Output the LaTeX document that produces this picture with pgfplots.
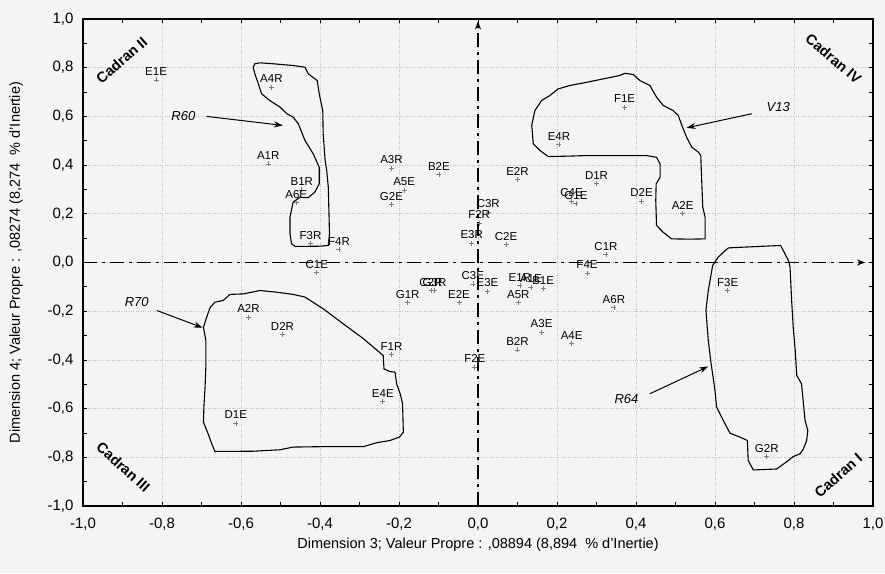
\documentclass[border=0pt]{standalone}
\usepackage{pgfplots}
\pgfplotsset{compat=1.18}
\usepackage{fontspec}
\setmainfont{Liberation Sans}
\usetikzlibrary{arrows.meta}
\definecolor{bg}{RGB}{244,244,244}
\definecolor{gridc}{RGB}{190,190,190}
\definecolor{markc}{RGB}{125,125,125}

\pgfplotstableread{
label x y
E1E -0.815 0.750
A4R -0.523 0.720
A1R -0.531 0.405
B1R -0.446 0.298
A6E -0.460 0.245
F3R -0.424 0.077
F4R -0.352 0.053
A3R -0.219 0.387
A5E -0.187 0.296
G2E -0.219 0.238
B2E -0.099 0.361
F1E 0.371 0.638
E4R 0.205 0.485
E2R 0.100 0.341
D1R 0.300 0.323
C4E 0.237 0.252
G1E 0.248 0.241
D2E 0.414 0.252
A2E 0.518 0.200
C3R 0.026 0.207
F2R 0.003 0.161
E3R -0.016 0.079
C2E 0.071 0.073
C1R 0.324 0.033
F4E 0.276 -0.044
C3E -0.013 -0.088
E3E 0.024 -0.118
E1R 0.106 -0.094
A1E 0.134 -0.101
B1E 0.165 -0.108
A5R 0.102 -0.165
A6R 0.344 -0.186
A3E 0.161 -0.287
A4E 0.237 -0.333
B2R 0.100 -0.359
F2E -0.008 -0.430
F3E 0.632 -0.115
G2R 0.731 -0.797
C1E -0.408 -0.042
A2R -0.581 -0.225
D2R -0.495 -0.296
D1E -0.613 -0.660
F1R -0.219 -0.379
E4E -0.241 -0.571
G1R -0.178 -0.165
C2R -0.119 -0.115
G3R -0.110 -0.115
E2E -0.048 -0.165
}\points

\begin{document}
\begin{tikzpicture}
\path[use as bounding box, fill=bg] (-83pt,-67pt) rectangle (802pt,506pt);
\begin{axis}[
  at={(0pt,0pt)}, anchor=south west,
  scale only axis, width=790pt, height=487pt,
  xmin=-1, xmax=1, ymin=-1, ymax=1,
  xtick={-1,-0.8,-0.6,-0.4,-0.2,0,0.2,0.4,0.6,0.8,1},
  ytick={-1,-0.8,-0.6,-0.4,-0.2,0,0.2,0.4,0.6,0.8,1},
  minor tick num=1,
  tick align=inside,
  major tick length=4pt, minor tick length=4pt,
  tick style={black, line width=0.8pt},
  grid=major,
  major grid style={gridc, dotted, line width=0.7pt},
  axis line style={black, line width=1.2pt},
  axis background/.style={fill=bg},
  ticklabel style={font=\fontsize{15}{15}\selectfont},
  /pgf/number format/use comma,
  /pgf/number format/fixed,
  /pgf/number format/fixed zerofill,
  /pgf/number format/precision=1,
  /pgf/number format/assume math mode=true,
  xticklabel style={yshift=-8pt},
  yticklabel style={xshift=-6pt},
  xlabel={Dimension 3; Valeur Propre : ,08894 (8,894~~\% d'Inertie)},
  ylabel={Dimension 4; Valeur Propre : ,08274 (8,274~~\% d'Inertie)},
  label style={font=\fontsize{14.5}{14.5}\selectfont},
  xlabel style={at={(axis description cs:0.5,-0.0801)}, anchor=center},
  ylabel style={at={(axis description cs:-0.0848,0.5)}, anchor=center},
  clip=false,
]
% zero lines
\draw[black, line width=1.6pt, dash pattern=on 14pt off 5pt on 3pt off 5pt, -{Stealth[length=8pt,width=6pt]}]
  (axis cs:0,-1) -- (axis cs:0,0.99);
\draw[black, line width=1.6pt, dash pattern=on 14pt off 5pt on 3pt off 5pt, -{Stealth[length=8pt,width=6pt]}]
  (axis cs:-1,0) -- (axis cs:0.98,0);

% points
\addplot[only marks, mark=+, mark size=2.5pt, mark options={markc, line width=0.7pt},
  nodes near coords, point meta=explicit symbolic,
  every node near coord/.style={black, font=\fontsize{11.5}{11.5}\selectfont, anchor=south, inner sep=0pt, yshift=4pt}]
  table[x=x, y=y, meta=label] {\points};

% R60
\addplot[black, line width=1.1pt, line join=round, mark=none] coordinates {
(-0.565,0.816) (-0.552,0.820) (-0.518,0.816) (-0.468,0.809) (-0.438,0.802) (-0.430,0.775)
(-0.407,0.747) (-0.402,0.693) (-0.393,0.624) (-0.392,0.529) (-0.387,0.419) (-0.383,0.378)
(-0.379,0.309) (-0.376,0.118) (-0.379,0.070) (-0.400,0.067) (-0.463,0.066) (-0.472,0.077)
(-0.476,0.118) (-0.476,0.186) (-0.468,0.248) (-0.451,0.268) (-0.430,0.266) (-0.413,0.289)
(-0.402,0.323) (-0.402,0.391) (-0.417,0.446) (-0.438,0.501) (-0.455,0.570) (-0.468,0.597)
(-0.484,0.611) (-0.501,0.638) (-0.527,0.665) (-0.548,0.693) (-0.556,0.734) (-0.565,0.775)
(-0.569,0.802)} -- cycle;

% V13
\addplot[black, line width=1.1pt, line join=round, mark=none] coordinates {
(0.136,0.563) (0.144,0.624) (0.161,0.665) (0.182,0.686) (0.203,0.713) (0.233,0.727)
(0.275,0.740) (0.317,0.754) (0.359,0.768) (0.372,0.777) (0.393,0.772) (0.410,0.747)
(0.435,0.727) (0.452,0.679) (0.469,0.645) (0.494,0.624) (0.507,0.604) (0.516,0.563)
(0.528,0.515) (0.541,0.474) (0.558,0.453) (0.564,0.439) (0.566,0.350) (0.569,0.227)
(0.575,0.186) (0.575,0.097) (0.537,0.096) (0.490,0.097) (0.469,0.124) (0.452,0.152)
(0.450,0.255) (0.451,0.323) (0.461,0.350) (0.461,0.405) (0.452,0.432) (0.427,0.439)
(0.359,0.439) (0.271,0.439) (0.233,0.437) (0.178,0.435) (0.157,0.460) (0.140,0.487)} -- cycle;

% R70
\addplot[black, line width=1.1pt, line join=round, mark=none] coordinates {
(-0.695,-0.266) (-0.687,-0.225) (-0.678,-0.184) (-0.666,-0.163) (-0.645,-0.156) (-0.628,-0.131)
(-0.594,-0.129) (-0.552,-0.115) (-0.510,-0.122) (-0.468,-0.131) (-0.438,-0.142) (-0.392,-0.190)
(-0.341,-0.252) (-0.290,-0.313) (-0.240,-0.382) (-0.238,-0.437) (-0.223,-0.448) (-0.210,-0.450)
(-0.206,-0.498) (-0.197,-0.539) (-0.191,-0.580) (-0.189,-0.697) (-0.199,-0.717) (-0.223,-0.731)
(-0.256,-0.740) (-0.290,-0.756) (-0.383,-0.756) (-0.468,-0.758) (-0.501,-0.769) (-0.569,-0.775)
(-0.666,-0.776) (-0.674,-0.745) (-0.683,-0.704) (-0.695,-0.656) (-0.694,-0.594) (-0.691,-0.512)
(-0.689,-0.430) (-0.689,-0.320)} -- cycle;

% R64
\addplot[black, line width=1.1pt, line join=round, mark=none] coordinates {
(0.594,-0.012) (0.608,0.022) (0.621,0.042) (0.634,0.060) (0.672,0.063) (0.766,0.070)
(0.777,0.036) (0.786,0.008) (0.790,-0.019) (0.794,-0.156) (0.798,-0.266) (0.803,-0.361)
(0.807,-0.464) (0.819,-0.498) (0.828,-0.649) (0.835,-0.690) (0.832,-0.731) (0.824,-0.765)
(0.815,-0.786) (0.798,-0.797) (0.786,-0.813) (0.756,-0.848) (0.697,-0.852) (0.684,-0.813)
(0.682,-0.731) (0.663,-0.717) (0.638,-0.701) (0.621,-0.649) (0.604,-0.594) (0.600,-0.526)
(0.589,-0.402) (0.583,-0.320) (0.577,-0.197) (0.583,-0.115) (0.589,-0.060)} -- cycle;

% annotation arrows and names
\draw[black, line width=1pt, -{Stealth[length=9pt,width=6pt]}] (axis cs:-0.687,0.600) -- (axis cs:-0.494,0.563);
\node[font=\itshape\fontsize{13}{13}\selectfont] at (axis cs:-0.746,0.600) {R60};
\draw[black, line width=1pt, -{Stealth[length=9pt,width=6pt]}] (axis cs:0.693,0.611) -- (axis cs:0.528,0.553);
\node[font=\itshape\fontsize{13}{13}\selectfont] at (axis cs:0.760,0.638) {V13};
\draw[black, line width=1pt, -{Stealth[length=9pt,width=6pt]}] (axis cs:-0.813,-0.197) -- (axis cs:-0.697,-0.268);
\node[font=\itshape\fontsize{13}{13}\selectfont] at (axis cs:-0.864,-0.163) {R70};
\draw[black, line width=1pt, -{Stealth[length=9pt,width=6pt]}] (axis cs:0.435,-0.539) -- (axis cs:0.583,-0.427);
\node[font=\itshape\fontsize{13}{13}\selectfont] at (axis cs:0.376,-0.560) {R64};

% quadrant names
\node[rotate=41, font=\bfseries\fontsize{14.5}{14.5}\selectfont] at (axis cs:-0.902,0.830) {Cadran II};
\node[rotate=-40, font=\bfseries\fontsize{14.5}{14.5}\selectfont] at (axis cs:0.900,0.837) {Cadran IV};
\node[rotate=-42, font=\bfseries\fontsize{14.5}{14.5}\selectfont] at (axis cs:-0.898,-0.840) {Cadran III};
\node[rotate=42, font=\bfseries\fontsize{14.5}{14.5}\selectfont] at (axis cs:0.912,-0.875) {Cadran I};
\end{axis}
\end{tikzpicture}
\end{document}
